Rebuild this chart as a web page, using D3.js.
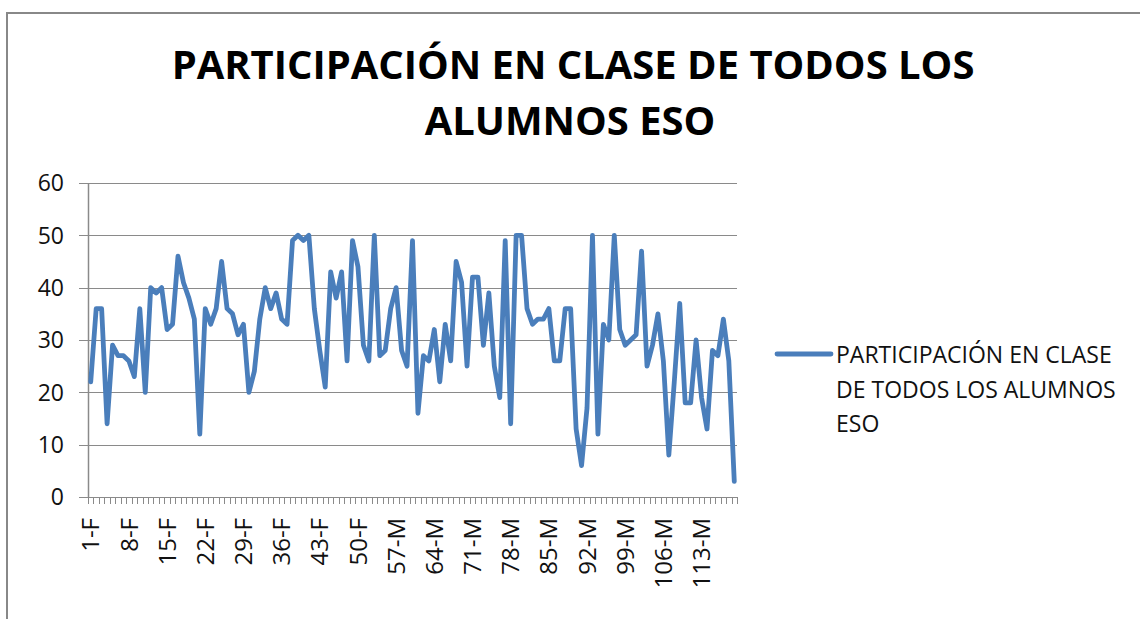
<!DOCTYPE html>
<meta charset="utf-8">
<style>
    body { margin: 0; background: #fff; }
    svg { display: block; }
    text { font-family: "Open Sans", sans-serif; fill: #000; }
    .grid line { stroke: #8a8a8a; stroke-width: 1.2px; }
    .tick-x { stroke: #8a8a8a; stroke-width: 1px; }
    .serie { fill: none; stroke: #4a7ebb; stroke-width: 4.8px; stroke-linejoin: round; stroke-linecap: round; }
</style>
<body>
<script src="https://d3js.org/d3.v7.min.js"></script>
<script>
    // series name / title
    var titleLines = ["PARTICIPACIÓN EN CLASE DE TODOS LOS", "ALUMNOS ESO"];
    var legendLines = ["PARTICIPACIÓN EN CLASE", "DE TODOS LOS ALUMNOS", "ESO"];

    // categories: student number + group (F then M)
    var numF = 54, numTotal = 119;
    var categories = d3.range(1, numTotal + 1).map(function (n) {
        return n + (n <= numF ? "-F" : "-M");
    });

    // participation values
    var values = [
        22, 36, 36, 14, 29, 27, 27, 26, 23, 36,
        20, 40, 39, 40, 32, 33, 46, 41, 38, 34,
        12, 36, 33, 36, 45, 36, 35, 31, 33, 20,
        24, 34, 40, 36, 39, 34, 33, 49, 50, 49,
        50, 36, 28, 21, 43, 38, 43, 26, 49, 44,
        29, 26, 50, 27, 28, 36, 40, 28, 25, 49,
        16, 27, 26, 32, 22, 33, 26, 45, 41, 25,
        42, 42, 29, 39, 25, 19, 49, 14, 50, 50,
        36, 33, 34, 34, 36, 26, 26, 36, 36, 13,
        6, 17, 50, 12, 33, 30, 50, 32, 29, 30,
        31, 47, 25, 29, 35, 26, 8, 22, 37, 18,
        18, 30, 19, 13, 28, 27, 34, 26, 3
    ];

    var yTicks = [0, 10, 20, 30, 40, 50, 60];
    var labelEvery = 7;

    var width = 1140, height = 619;
    var svg = d3.select("body").append("svg")
        .attr("width", width)
        .attr("height", height);

    // chart frame (only top and left edges visible)
    svg.append("path")
        .attr("d", "M7," + height + "V13H" + width)
        .attr("fill", "none")
        .attr("stroke", "#888")
        .attr("stroke-width", 2);

    var x = d3.scaleBand().domain(categories).range([88, 737]);
    var y = d3.scaleLinear().domain([0, 60]).range([497, 183]);

    // horizontal gridlines + y labels
    var grid = svg.append("g").attr("class", "grid");
    grid.selectAll("line").data(yTicks).enter().append("line")
        .attr("x1", 79).attr("x2", 737)
        .attr("y1", function (d) { return Math.round(y(d)) + 0.5; })
        .attr("y2", function (d) { return Math.round(y(d)) + 0.5; });

    svg.append("g").selectAll("text").data(yTicks).enter().append("text")
        .attr("x", 64)
        .attr("y", function (d) { return y(d); })
        .attr("dy", "0.36em")
        .attr("text-anchor", "end")
        .style("font-size", "23px")
        .style("fill", "#111")
        .text(function (d) { return d; });

    // y axis line
    svg.append("line")
        .attr("x1", 88.5).attr("x2", 88.5)
        .attr("y1", y(60)).attr("y2", y(0))
        .attr("stroke", "#8a8a8a").attr("stroke-width", 1.5);

    // x tick marks at band boundaries
    var edges = categories.map(function (c) { return x(c); }).concat([x.range()[1]]);
    svg.append("g").selectAll("line").data(edges).enter().append("line")
        .attr("class", "tick-x")
        .attr("x1", function (d) { return Math.round(d) + 0.5; })
        .attr("x2", function (d) { return Math.round(d) + 0.5; })
        .attr("y1", y(0)).attr("y2", y(0) + 7);

    // x labels, rotated
    svg.append("g").selectAll("text")
        .data(categories.filter(function (c, i) { return i % labelEvery === 0; }))
        .enter().append("text")
        .attr("transform", function (d) {
            return "translate(" + (x(d) + x.bandwidth() / 2) + ",518) rotate(-90)";
        })
        .attr("dy", "0.36em")
        .attr("text-anchor", "end")
        .style("font-size", "24px")
        .style("fill", "#111")
        .text(function (d) { return d; });

    // the series
    var line = d3.line()
        .x(function (d, i) { return x(categories[i]) + x.bandwidth() / 2; })
        .y(function (d) { return y(d); });

    svg.append("path")
        .datum(values)
        .attr("class", "serie")
        .attr("d", line);

    // title, sized to the picture's width
    var title = svg.append("g");
    var t1 = title.append("text")
        .attr("x", 573).attr("y", 79)
        .attr("text-anchor", "middle")
        .style("font-weight", "bold")
        .style("font-size", "38px")
        .text(titleLines[0]);
    var fs = 38 * 803 / t1.node().getComputedTextLength();
    t1.style("font-size", fs + "px");
    title.append("text")
        .attr("x", 570).attr("y", 135)
        .attr("text-anchor", "middle")
        .style("font-weight", "bold")
        .style("font-size", fs + "px")
        .text(titleLines[1]);

    // legend
    var legend = svg.append("g");
    legend.append("line")
        .attr("x1", 777).attr("x2", 831)
        .attr("y1", 354).attr("y2", 354)
        .attr("stroke", "#4a7ebb").attr("stroke-width", 4.8)
        .attr("stroke-linecap", "round");
    var lt = legend.selectAll("text").data(legendLines).enter().append("text")
        .attr("x", 836)
        .attr("y", function (d, i) { return 363 + i * 34.5; })
        .style("font-size", "20px")
        .style("fill", "#111")
        .text(function (d) { return d; });
    var lfs = 20 * 276 / lt.node().getComputedTextLength();
    lt.style("font-size", lfs + "px");
</script>
</body>
</html>
